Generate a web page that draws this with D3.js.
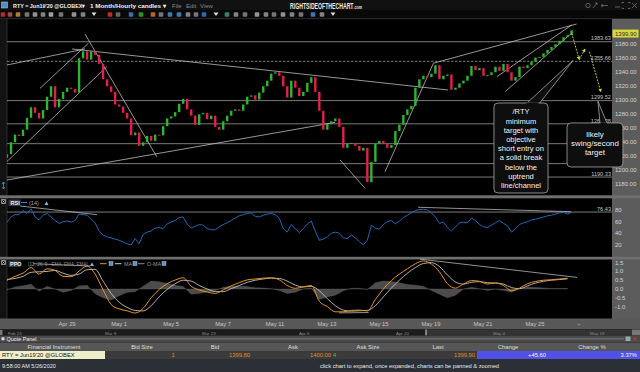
<!DOCTYPE html>
<html><head><meta charset="utf-8">
<script src="https://cdn.jsdelivr.net/npm/d3@7"></script>
<style>
html,body{margin:0;padding:0;background:#000;overflow:hidden}
svg{display:block;font-family:"Liberation Sans",Arial,sans-serif}
</style></head><body>
<svg id="c" width="640" height="372"></svg>
<script>
// ---------------- DATA ----------------
const barStart = -0.31;      // day index of first bar (Sun evening, Apr 26)
const barDays = 0.154;       // spacing of the bars shown, in trading days
const viewEndDay = 22.96;    // right edge of the visible time window
const firstOpen = 1218;
const closes = [
1223,1240,1251,1249,1258,1275,1290,1282,1274,1286,
1305,1320,1290,1302,1312,1318,1316,1311,1360,1370,
1358,1370,1365,1352,1330,1320,1312,1294,1291,1282,
1274,1250,1254,1235,1240,1249,1242,1251,1250,1263,
1274,1277,1283,1295,1302,1287,1278,1265,1280,1282,
1273,1278,1262,1258,1270,1278,1285,1287,1285,1294,
1305,1307,1301,1311,1320,1328,1338,1340,1335,1320,
1304,1328,1318,1306,1312,1325,1333,1312,1285,1258,
1266,1270,1274,1262,1232,1238,1239,1235,1228,1232,
1183,1212,1238,1242,1238,1232,1236,1256,1265,1279,
1287,1292,1318,1330,1335,1333,1338,1350,1330,1335,
1337,1315,1318,1324,1328,1335,1349,1343,1346,1335,
1336,1340,1348,1342,1352,1340,1328,1333,1348,1346,
1350,1355,1361,1362,1367,1372,1376,1380,1385,1390,
1393,1399.9];
const rsiValues = [
59,68,72,72,79,74,82,68,63,71,
74,68,62,57,60,61,59,62,73,72,
71,64,58,44,37,34,32,30,28,25,
22,20,31,22,38,42,44,49,50,48,
56,59,62,67,68,56,49,52,55,54,
48,46,46,51,55,58,62,66,70,72,
74,75,69,68,71,73,74,72,66,48,
42,55,48,41,48,56,61,44,28,30,
34,40,42,40,32,31,37,32,26,20,
28,54,49,47,55,60,62,56,61,67,
71,75,79,81,81,80,75,68,57,59,
50,44,51,58,59,58,66,62,55,51,
50,54,58,62,57,53,42,48,55,58,
60,63,64,66,68,70,71,73,75,76,
73,76];
const rsiLevel = 76.43;
const ppoEvery = 2;          // PPO sampled every 2 bars
const ppoValues = [
0.49,0.72,0.90,1.22,0.85,1.15,1.06,0.72,0.70,1.02,
1.31,0.85,-0.05,-0.88,-1.13,-1.24,-1.37,-1.10,-0.50,-0.03,
0.30,0.51,0.64,0.15,-0.05,-0.17,-0.25,-0.05,0.18,0.36,
0.52,0.57,0.62,0.64,0.52,0.20,0.04,0.12,0.20,-0.70,
-1.00,-1.30,-1.30,-1.22,-1.20,-1.25,-0.60,0.00,0.48,0.85,
1.15,1.44,1.60,1.42,0.98,0.30,0.05,0.28,0.48,0.44,
0.28,0.34,0.20,-0.10,0.05,0.30,0.43,0.50,0.53,0.57,
0.61];
const ppoSignal = [
0.55,0.60,0.72,0.95,0.98,1.00,1.06,0.90,0.78,0.85,
1.10,1.12,0.45,-0.25,-0.75,-1.05,-1.22,-1.25,-0.95,-0.45,
-0.02,0.30,0.50,0.45,0.20,0.00,-0.15,-0.15,0.02,0.20,
0.38,0.50,0.57,0.62,0.60,0.45,0.22,0.12,0.15,-0.10,
-0.55,-0.95,-1.20,-1.26,-1.24,-1.22,-0.95,-0.45,0.05,0.50,
0.90,1.22,1.45,1.50,1.28,0.80,0.40,0.28,0.38,0.42,
0.36,0.34,0.28,0.08,0.02,0.18,0.34,0.44,0.50,0.54,
0.58];
const dayTicks = [2,4,6,8,10,12,14,16,18,20];
const dayLabels = ["Apr 29","May 1","May 5","May 7","May 11","May 13","May 15","May 19","May 21","May 25"];
const priceTicks = [1380,1360,1340,1320,1300,1280,1260,1240,1220,1200,1180];
const rsiTicks = [80,60,40,20];
const ppoTicks = [1.5,1.0,0.5,0.0,-0.5,-1.0];
const levelPrices = [1383.63,1355.66,1299.52,1266.38,1238.0,1209.5,1190.33];
const levelLabels = ["1383.63","1355.66","1299.52","1266.38","","","1190.33"];
const levelDashed = [false,true,false,false,false,false,false];
const lastPrice = 1399.90;
// trendlines [day1, value1, day2, value2]
const priceTrendlines = [
 [2.19,1373.3,16.65,1314.7],[-0.31,1350.4,2.69,1373.3],[-0.32,1212.3,3.53,1348.0],
 [0.96,1317.1,2.82,1381.4],[2.69,1394.7,5.45,1219.4],[-0.32,1186.0,12.31,1268.4],
 [12.50,1214.7,13.46,1174.3],[14.23,1198.0,16.09,1352.9],[16.09,1352.9,21.60,1409.0],
 [18.53,1333.7,21.41,1407.6],[18.85,1312.3,21.47,1398.0]];
const rsiTrendlines = [[0.19,86.8,3.15,71.9],[15.5,84.6,21.38,77.0]];
const ppoTrendlines = [[15.58,1.70,21.62,0.66],[12.46,-1.36,13.60,-1.34],[0.69,1.44,2.88,1.31]];
// projected path (yellow)
const projPath = [[[21.41,1395.7],[21.70,1358.4]],[[21.70,1358.4],[21.92,1372.9]],[[22.09,1369.4],[22.53,1312.3]]];
// callouts: box [d1,pTop,d2,pBottom], tail apex [d,p], tail base days
const callout1 = {box:[18.42,1296.1,20.50,1167.6], apex:[21.46,1356.7], base:[19.65,20.15],
  lines:["/RTY","minimum","target with","objective","short entry on","a solid break","below the","uptrend","line/channel"]};
const callout2 = {box:[21.23,1267.6,23.38,1204.7], apex:[22.42,1298.6], base:[22.50,22.78],
  lines:["likely","swing/second","target"]};
const navLabels = ["Feb 24","Mar 9","Mar 23","Apr 6","Apr 20","May 4","May 18"];
const quoteHeaders = ["Financial Instrument","Bid Size","Bid","Ask","Ask Size","Last","Change","Change %"];
const quote = {inst:"RTY = Jun19'20 @GLOBEX", bidSize:"1", bid:"1399.80", ask:"1400.00", askSize:"4", last:"1399.90", change:"+45.60", changePct:"3.37%"};

// ---------------- DRAW ----------------
const svg = d3.select("#c");
const L = 7, R = 612;
const x = d3.scaleLinear().domain([barStart, viewEndDay]).range([L, R]);
const yMain = d3.scaleLinear().domain([1164.7, 1416.1]).range([195, 19]);
const yRsi = d3.scaleLinear().domain([0, 100]).range([256.6, 198.3]);
const yPpo = d3.scaleLinear().domain([-1.68, 1.68]).range([318.5, 259.5]);

svg.append("rect").attr("width",640).attr("height",372).attr("fill","#000");
// title bar + toolbar
svg.append("rect").attr("width",640).attr("height",10).attr("fill","#111");
svg.append("rect").attr("y",10).attr("width",640).attr("height",8.5).attr("fill","#080808");
svg.append("line").attr("x1",0).attr("x2",640).attr("y1",18.7).attr("y2",18.7).attr("stroke","#3a3a3a").attr("stroke-width",0.8);
svg.append("rect").attr("x",1.5).attr("y",2).attr("width",6).attr("height",6).attr("fill","#4f8fcf").attr("stroke","#9fd09f").attr("stroke-width",0.6);
const tt = svg.append("g").attr("font-weight","bold").attr("fill","#f0f0f0").attr("font-size",6.1);
tt.append("text").attr("x",13).attr("y",8).attr("textLength",72).attr("lengthAdjust","spacingAndGlyphs").text("RTY = Jun19'20 @GLOBEX\u25BE");
tt.append("text").attr("x",90).attr("y",8).attr("textLength",76).attr("lengthAdjust","spacingAndGlyphs").text("1 Month/Hourly candles \u25BE");
const menu = svg.append("g").attr("fill","#8a8a8a").attr("font-size",6);
menu.append("text").attr("x",172).attr("y",8).text("File");
menu.append("text").attr("x",186).attr("y",8).text("Edit");
menu.append("text").attr("x",200).attr("y",8).text("View");
// logo (one text, horizontally condensed)
const logo = svg.append("text").attr("transform","translate(290,8.6) scale(0.6,1)")
  .attr("font-size",8.6).attr("font-weight","bold").attr("fill","#e6e6e6");
logo.append("tspan").text("RIGHTSIDEOFTHECHART");
logo.append("tspan").attr("font-size",6).text(".com");
// window icons
const wi = svg.append("g").attr("stroke","#6e6e6e").attr("fill","none").attr("stroke-width",0.8);
wi.append("circle").attr("cx",588).attr("cy",5.5).attr("r",2.2);
wi.append("path").attr("d","M593,8 L597,3 M595,3 h2 v2");
wi.append("path").attr("d","M601,5.5 h7 M603,4 l-2,1.5 l2,1.5");
wi.append("path").attr("d","M615,7 h5");
wi.append("path").attr("d","M622,3.5 v-1 h2 M628,2.5 h2 v1 M622,7.5 v1 h2 M628,8.5 h2 v-1");
wi.append("path").attr("d","M632,3 l5,5 M637,3 l-5,5");
// toolbar icons
const tbCols = ["#c33","#b55","#d88a3a","#888","#aaa","#999","#bbb","#888","#aaa","#999","tri","#d33","#777",
  "#4a7fc0","#3a3","#d8772a","#888","#4a8ad0","#4a8ad0","#999","#888","#3a7ad0","tri","#3a9a8a","#999","#888",
  "#aaa","#999","#888","#aaa","#999","#888","#4a8ad0","#999","tri"];
const tbX = [3,10,18,27,35,43,51,61,74,83,94,110,118,131,141,153,161,170,179,188,196,204,216,227,236,245,257,266,274,283,292,301,313,322,333];
tbCols.forEach((c,i)=>{
  if(c==="tri") svg.append("path").attr("d",`M${tbX[i]-2.5},12.5 h5 l-2.5,3.5z`).attr("fill","#ddd");
  else svg.append("rect").attr("x",tbX[i]-2.3).attr("y",12.2).attr("width",4.6).attr("height",4.6).attr("rx",0.8).attr("fill",c).attr("opacity",0.85);
});

// left strip & axis column
svg.append("rect").attr("x",0).attr("y",19).attr("width",L).attr("height",300).attr("fill","#121212");
svg.append("rect").attr("x",R).attr("y",19).attr("width",640-R).attr("height",300).attr("fill","#5c5c5c");
svg.append("line").attr("x1",L).attr("x2",L).attr("y1",19).attr("y2",318.5).attr("stroke","#3c3c3c").attr("stroke-width",0.7);
svg.append("path").attr("d","M2,184 l1.5,-2 l1.5,2 M3.5,182 v7 M2,187 l1.5,2 l1.5,-2").attr("stroke","#4aa0e0").attr("fill","none").attr("stroke-width",0.7);

// separators
[[195.3,3],[256.8,2.7]].forEach(s=>svg.append("rect").attr("x",0).attr("y",s[0]).attr("width",640).attr("height",s[1]).attr("fill","#6f6f6f"));

// ---- MAIN PANEL ----
const gMain = svg.append("g");
gMain.append("defs").append("clipPath").attr("id","cm").append("rect").attr("x",L).attr("y",19).attr("width",R-L).attr("height",176);
const mClip = gMain.append("g").attr("clip-path","url(#cm)");
levelPrices.forEach((p,i)=>{
  mClip.append("line").attr("x1",L).attr("x2",R).attr("y1",yMain(p)).attr("y2",yMain(p))
   .attr("stroke","#9a9a9a").attr("stroke-width",0.8).attr("stroke-dasharray",levelDashed[i]?"2.5,1.5":null);
  if(levelLabels[i]) mClip.append("text").attr("x",R-1).attr("y",yMain(p)-1.3).attr("text-anchor","end")
   .attr("font-size",5.6).attr("fill","#c4c4c4").text(levelLabels[i]);
});
priceTrendlines.forEach(t=>mClip.append("line").attr("x1",x(t[0])).attr("y1",yMain(t[1])).attr("x2",x(t[2])).attr("y2",yMain(t[3]))
  .attr("stroke","#c8c8c8").attr("stroke-width",0.75));
const bars = closes.map((c,i)=>({t: barStart+i*barDays, o: i===0?firstOpen:closes[i-1], c}));
mClip.selectAll("rect.cd").data(bars).join("rect").attr("class","cd")
  .attr("x",d=>x(d.t)-1.2).attr("width",2.4)
  .attr("y",d=>yMain(Math.max(d.o,d.c)))
  .attr("height",d=>Math.max(1,Math.abs(yMain(d.o)-yMain(d.c))))
  .attr("fill",d=>d.c>=d.o?"#2fb52f":"#e0214c");

// projected path
const defs = svg.append("defs");
defs.append("marker").attr("id","ah").attr("viewBox","0 0 10 10").attr("refX",8).attr("refY",5)
  .attr("markerWidth",4).attr("markerHeight",4).attr("orient","auto")
  .append("path").attr("d","M0,0 L10,5 L0,10 z").attr("fill","#d8d82a");
projPath.forEach(s=>mClip.append("line").attr("x1",x(s[0][0])).attr("y1",yMain(s[0][1])).attr("x2",x(s[1][0])).attr("y2",yMain(s[1][1]))
  .attr("stroke","#d8d82a").attr("stroke-width",0.9).attr("stroke-dasharray","2,1.2").attr("marker-end","url(#ah)"));

// main y axis labels
const ax = svg.append("g").attr("font-size",6).attr("fill","#d2d2d2");
priceTicks.forEach(p=>ax.append("text").attr("x",615).attr("y",yMain(p)+2).text(p.toFixed(2)));
// last price tag
const ly = yMain(lastPrice)+3.2;
svg.append("rect").attr("x",612.5).attr("y",ly-4).attr("width",26).attr("height",8).attr("fill","#d5d640");
svg.append("text").attr("x",615).attr("y",ly+2).attr("font-size",6).attr("fill","#333").text(lastPrice.toFixed(2));

// callouts
function callout(co, fs, lh, firstOff){
  const g = svg.append("g");
  const bx1=x(co.box[0]), by1=yMain(co.box[1]), bx2=x(co.box[2]), by2=yMain(co.box[3]);
  g.append("path").attr("d",`M${x(co.base[0])},${by1+1} L${x(co.apex[0])},${yMain(co.apex[1])} L${x(co.base[1])},${by1+1}`)
    .attr("fill","#0e0e0e").attr("stroke","#a8a8a8").attr("stroke-width",0.8);
  g.append("rect").attr("x",bx1).attr("y",by1).attr("width",bx2-bx1).attr("height",by2-by1).attr("rx",4)
    .attr("fill","#0e0e0e").attr("stroke","#a8a8a8").attr("stroke-width",0.8);
  g.append("rect").attr("x",x(co.base[0])+0.5).attr("y",by1-0.5).attr("width",x(co.base[1])-x(co.base[0])-1).attr("height",1.6).attr("fill","#0e0e0e");
  co.lines.forEach((t,i)=>g.append("text").attr("x",(bx1+bx2)/2).attr("y",by1+firstOff+i*lh)
    .attr("text-anchor","middle").attr("font-size",fs).attr("fill","#f2f2f2").text(t));
}
callout(callout1, 7.5, 9.2, 11.3);
callout(callout2, 7.9, 8.6, 14.5);

// ---- RSI PANEL ----
const gR = svg.append("g");
gR.append("line").attr("x1",L).attr("x2",R).attr("y1",yRsi(rsiLevel)).attr("y2",yRsi(rsiLevel)).attr("stroke","#9a9a9a").attr("stroke-width",0.8);
rsiTrendlines.forEach(t=>gR.append("line").attr("x1",x(t[0])).attr("y1",yRsi(t[1])).attr("x2",x(t[2])).attr("y2",yRsi(t[3]))
  .attr("stroke","#c0c0c0").attr("stroke-width",0.75));
gR.append("path").datum(rsiValues).attr("fill","none").attr("stroke","#2168b4").attr("stroke-width",1)
  .attr("d",d3.line().x((d,i)=>x(barStart+i*barDays)).y(d=>yRsi(d)));
gR.append("text").attr("x",R-1).attr("y",yRsi(rsiLevel)-1.5).attr("text-anchor","end").attr("font-size",5.6).attr("fill","#c4c4c4").text(rsiLevel.toFixed(2));
rsiTicks.forEach(v=>ax.append("text").attr("x",615).attr("y",yRsi(v)+2).text(v));
// legend
gR.append("rect").attr("x",8.5).attr("y",199.5).attr("width",12).attr("height",6.5).attr("fill","#3a3a3a");
gR.append("text").attr("x",10.5).attr("y",205).attr("font-size",5.5).attr("font-weight","bold").attr("fill","#eee").text("RSI");
gR.append("line").attr("x1",21).attr("x2",27).attr("y1",202.5).attr("y2",202.5).attr("stroke","#2a8ad8").attr("stroke-width",1);
gR.append("text").attr("x",29).attr("y",205).attr("font-size",5.5).attr("fill","#aaa").text("(14)");
gR.append("path").attr("d","M44.5,205 l2,-3.5 l2,3.5z").attr("fill","#8ab8e8");
svg.append("path").attr("d","M1.5,199.5 h4 v4 h-4z M2.3,200.3 l2.4,2.4 M4.7,200.3 l-2.4,2.4").attr("stroke","#ddd").attr("stroke-width",0.6).attr("fill","none");

// ---- PPO PANEL ----
const gP = svg.append("g");
const pX = (d,i)=>x(barStart+i*ppoEvery*barDays);
const hist = ppoValues.map((v,i)=>v-ppoSignal[i]);
gP.append("path").datum(hist).attr("fill","#4c4c4c").attr("stroke","#5a5a5a").attr("stroke-width",0.4)
  .attr("d",d3.area().x(pX).y0(yPpo(0)).y1(d=>yPpo(d)));
ppoTrendlines.forEach(t=>gP.append("line").attr("x1",x(t[0])).attr("y1",yPpo(t[1])).attr("x2",x(t[2])).attr("y2",yPpo(t[3]))
  .attr("stroke","#c0c0c0").attr("stroke-width",0.75));
gP.append("path").datum(ppoSignal).attr("fill","none").attr("stroke","#cfcfcf").attr("stroke-width",0.85)
  .attr("d",d3.line().x(pX).y(d=>yPpo(d)).curve(d3.curveMonotoneX));
gP.append("path").datum(ppoValues).attr("fill","none").attr("stroke","#e8951f").attr("stroke-width",1)
  .attr("d",d3.line().x(pX).y(d=>yPpo(d)).curve(d3.curveMonotoneX));
ppoTicks.forEach(v=>ax.append("text").attr("x",615).attr("y",yPpo(v)+2).text(v.toFixed(1)));
// legend
gP.append("rect").attr("x",8.5).attr("y",260.5).attr("width",12).attr("height",6.5).attr("fill","#3a3a3a");
gP.append("text").attr("x",10).attr("y",266).attr("font-size",5.5).attr("font-weight","bold").attr("fill","#eee").text("PPO");
gP.append("text").attr("x",28).attr("y",266).attr("font-size",5.4).attr("fill","#9a9a9a").attr("textLength",60).attr("lengthAdjust","spacingAndGlyphs").text("(12, 26, 9 - EMA, EMA, EMA)");
gP.append("path").attr("d","M90,266 l2,-3.5 l2,3.5z").attr("fill","#8ab8e8");
const legItems = [[100,"#e8951f",""],[115,"#cfcfcf","MA"],[138,"#8a8a8a","O-MA"]];
const boxX = [109,133,162];
legItems.forEach((it,i)=>{
  gP.append("line").attr("x1",it[0]).attr("x2",it[0]+6.5).attr("y1",263.7).attr("y2",263.7).attr("stroke",it[1]).attr("stroke-width",1);
  if(it[2]) gP.append("text").attr("x",it[0]+9).attr("y",266).attr("font-size",5.4).attr("fill","#9a9a9a").text(it[2]);
  gP.append("rect").attr("x",boxX[i]).attr("y",261.5).attr("width",4).attr("height",4).attr("fill","#5a8fd0").attr("stroke","#ddd").attr("stroke-width",0.4);
});
svg.append("path").attr("d","M1.5,260.5 h4 v4 h-4z M2.3,261.3 l2.4,2.4 M4.7,261.3 l-2.4,2.4").attr("stroke","#ddd").attr("stroke-width",0.6).attr("fill","none");

// ---- DATE AXIS ----
svg.append("rect").attr("x",0).attr("y",318.5).attr("width",640).attr("height",11).attr("fill","#585858");
const dax = svg.append("g").attr("font-size",5.8).attr("fill","#c6c6c6").attr("text-anchor","middle");
dayTicks.forEach((d,i)=>dax.append("text").attr("x",x(d)).attr("y",325.8).text(dayLabels[i]));
dax.append("text").attr("x",579).attr("y",325.8).attr("fill","#9a9a9a").text("+");

// navigator
svg.append("rect").attr("x",0).attr("y",329.5).attr("width",640).attr("height",6).attr("fill","#1b1b1b");
svg.append("rect").attr("x",426).attr("y",329.5).attr("width",206).attr("height",6).attr("fill","#333");
svg.append("rect").attr("x",425.5).attr("y",329.5).attr("width",1).attr("height",6).attr("fill","#ddd");
svg.append("rect").attr("x",632).attr("y",329.5).attr("width",8).attr("height",6).attr("fill","#777");
svg.append("rect").attr("x",0).attr("y",330).attr("width",2.5).attr("height",5).attr("fill","#777");
const navX = d3.scalePoint().domain(navLabels).range([8,590]);
navLabels.forEach(l=>svg.append("text").attr("x",navX(l)).attr("y",334.6).attr("font-size",4.4).attr("fill","#8a8a8a").text(l));

// quote panel
svg.append("rect").attr("x",0).attr("y",335.5).attr("width",640).attr("height",7).attr("fill","#4a4a4a");
svg.append("rect").attr("x",1.5).attr("y",337.3).attr("width",3).attr("height",3).attr("fill","#ddd");
svg.append("text").attr("x",6.5).attr("y",341).attr("font-size",5.4).attr("fill","#eee").text("Quote Panel");
svg.append("line").attr("x1",40).attr("x2",624).attr("y1",338.8).attr("y2",338.8).attr("stroke","#a0a0a0").attr("stroke-width",0.6);
svg.append("rect").attr("x",625.5).attr("y",336.5).attr("width",5).attr("height",4.5).attr("fill","#9aa");
svg.append("path").attr("d","M633,336.8 l4,4 M637,336.8 l-4,4").attr("stroke","#d33").attr("stroke-width",0.9);
svg.append("rect").attr("x",0).attr("y",342.5).attr("width",640).attr("height",8.5).attr("fill","#565656");
const qx = [54,142,215,293,368,438,508,592];
quoteHeaders.forEach((h,i)=>svg.append("text").attr("x",qx[i]).attr("y",349.3).attr("text-anchor","middle").attr("font-size",5.9).attr("fill","#dedede").text(h));
svg.append("rect").attr("x",0).attr("y",351).attr("width",477).attr("height",8).attr("fill","#3b3b3b");
svg.append("rect").attr("x",0).attr("y",351).attr("width",105).attr("height",8).attr("fill","#eeeec8");
svg.append("rect").attr("x",477).attr("y",351).attr("width",163).attr("height",8).attr("fill","#5151e4");
const qf = svg.append("g").attr("font-size",5.8);
qf.append("text").attr("x",2).attr("y",357.2).attr("fill","#222").text(quote.inst);
qf.append("text").attr("x",173).attr("y",357.2).attr("text-anchor","middle").attr("fill","#e0882c").text(quote.bidSize);
qf.append("text").attr("x",250).attr("y",357.2).attr("text-anchor","end").attr("fill","#e0882c").text(quote.bid);
qf.append("text").attr("x",331).attr("y",357.2).attr("text-anchor","end").attr("fill","#e0882c").text(quote.ask);
qf.append("text").attr("x",333).attr("y",357.2).attr("fill","#3cc43c").text(quote.askSize);
qf.append("text").attr("x",475).attr("y",357.2).attr("text-anchor","end").attr("fill","#e0882c").text(quote.last);
qf.append("text").attr("x",537).attr("y",357.2).attr("text-anchor","middle").attr("fill","#f4f4f4").text(quote.change);
qf.append("text").attr("x",637).attr("y",357.2).attr("text-anchor","end").attr("fill","#f4f4f4").text(quote.changePct);

// status bar
svg.append("rect").attr("x",0).attr("y",359).attr("width",640).attr("height",13).attr("fill","#2b3036");
svg.append("text").attr("x",2).attr("y",368).attr("font-size",5.5).attr("fill","#e8e8e8").text("9:58:00 AM 5/26/2020");
svg.append("text").attr("x",320).attr("y",368).attr("font-size",5.7).attr("fill","#e8e8e8").text("click chart to expand, once expanded, charts can be panned & zoomed");
</script></body></html>
